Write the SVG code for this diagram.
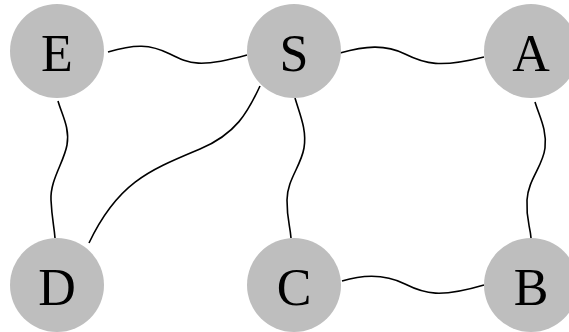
<svg xmlns="http://www.w3.org/2000/svg" width="569" height="332" viewBox="0 0 569 332">
<style>
.n{fill:#bebebe}
.t{font-family:"Liberation Serif","Times New Roman",serif;font-size:52px;fill:#000;text-anchor:middle}
.e{fill:none;stroke:#000;stroke-width:1.6}
</style>
<rect width="569" height="332" fill="#fff"/>
<g id="connectors">
<path class="e" d="M108,52 C135,44 150,44 170,54 S200,68 247,55"/>
<path class="e" d="M340,53 C365,46 385,44 405,54 S440,68 484,57"/>
<path class="e" d="M342,281 C365,274 385,274 405,284 S440,298 484,285"/>
<path class="e" d="M58,101 C62,115 70,128 67,145 S50,180 51,200 S54,225 55,238"/>
<path class="e" d="M260,86 C248,112 236,134 200,149 C150,170 118,182 89,243"/>
<path class="e" d="M295,98 C300,115 307,130 304,148 S287,180 287,200 S290,225 291,238"/>
<path class="e" d="M535,102 C540,118 547,130 545,148 S528,180 527,200 S530,225 531,238"/>
</g>
<g id="node-E"><circle class="n" cx="57" cy="51" r="47"/><text class="t" x="57" y="71">E</text></g>
<g id="node-S"><circle class="n" cx="294" cy="51" r="47"/><text class="t" x="294" y="71">S</text></g>
<g id="node-A"><circle class="n" cx="531" cy="51" r="47"/><text class="t" x="531" y="71">A</text></g>
<g id="node-D"><circle class="n" cx="57" cy="285" r="47"/><text class="t" x="57" y="305">D</text></g>
<g id="node-C"><circle class="n" cx="294" cy="285" r="47"/><text class="t" x="294" y="305">C</text></g>
<g id="node-B"><circle class="n" cx="531" cy="285" r="47"/><text class="t" x="531" y="305">B</text></g>
</svg>
